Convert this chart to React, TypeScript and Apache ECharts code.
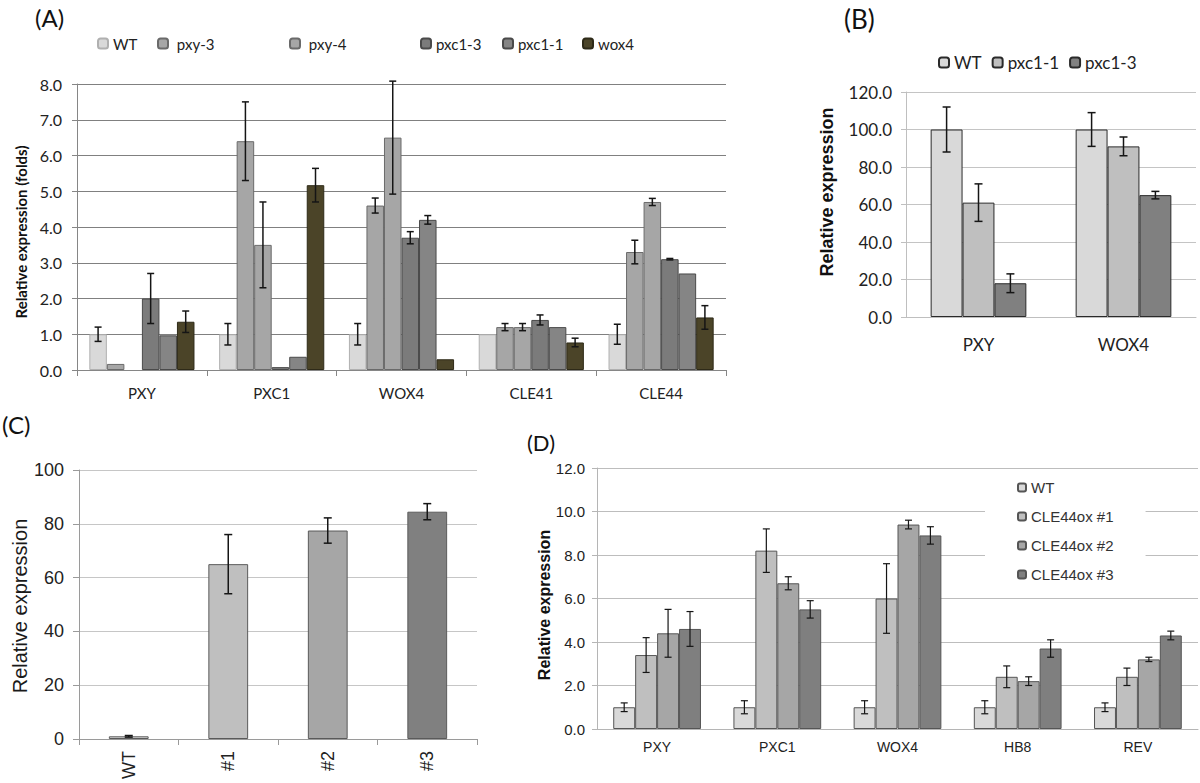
import React, { useEffect, useRef } from 'react';
import * as echarts from 'echarts';

// ---------- Panel A ----------
const aCategories = ['PXY', 'PXC1', 'WOX4', 'CLE41', 'CLE44'];
const aNames = ['WT', 'pxy-3', 'pxy-4', 'pxc1-3', 'pxc1-1', 'wox4'];
const aWT = [1.0, 1.0, 1.0, 1.0, 1.0];
const aWTErr = [0.2, 0.3, 0.3, 0, 0.28];
const aPxy3 = [0.17, 6.4, 4.6, 1.2, 3.3];
const aPxy3Err = [0, 1.1, 0.21, 0.1, 0.33];
const aPxy4 = [null, 3.5, 6.5, 1.2, 4.7];
const aPxy4Err = [0, 1.2, 1.58, 0.1, 0.1];
const aPxc13 = [2.0, 0.08, 3.7, 1.4, 3.1];
const aPxc13Err = [0.7, 0, 0.17, 0.14, 0.02];
const aPxc11 = [0.97, 0.37, 4.2, 1.2, 2.7];
const aPxc11Err = [0, 0, 0.12, 0, 0];
const aWox4 = [1.35, 5.17, 0.3, 0.77, 1.47];
const aWox4Err = [0.3, 0.47, 0, 0.12, 0.33];

// ---------- Panel B ----------
const bCategories = ['PXY', 'WOX4'];
const bNames = ['WT', 'pxc1-1', 'pxc1-3'];
const bWT = [100, 100];
const bWTErr = [12, 9];
const bPxc11 = [61, 91];
const bPxc11Err = [10, 5];
const bPxc13 = [18, 65];
const bPxc13Err = [5, 2];

// ---------- Panel C ----------
const cCategories = ['WT', '#1', '#2', '#3'];
const cValues = [1.0, 65, 77.5, 84.5];
const cErr = [0.3, 11, 4.7, 3];

// ---------- Panel D ----------
const dCategories = ['PXY', 'PXC1', 'WOX4', 'HB8', 'REV'];
const dNames = ['WT', 'CLE44ox #1', 'CLE44ox #2', 'CLE44ox #3'];
const dWT = [1, 1, 1, 1, 1];
const dWTErr = [0.2, 0.3, 0.3, 0.3, 0.2];
const d1 = [3.4, 8.2, 6.0, 2.4, 2.4];
const d1Err = [0.8, 1.0, 1.6, 0.5, 0.4];
const d2 = [4.4, 6.7, 9.4, 2.2, 3.2];
const d2Err = [1.1, 0.3, 0.2, 0.2, 0.1];
const d3 = [4.6, 5.5, 8.9, 3.7, 4.3];
const d3Err = [0.8, 0.4, 0.4, 0.4, 0.2];

const FA = 'Lato, "Open Sans", sans-serif';
const FD = '"Liberation Sans", Arial, sans-serif';

const A_GAP = 0.19;
const B_GAP = 0.34;
const C_GAP = 0.6;
const D_GAP = 0.27;

function bar(name: string, idx: number, data: (number | null)[], color: string, border: string, gap: number) {
  return {
    type: 'bar',
    name,
    xAxisIndex: idx,
    yAxisIndex: idx,
    data: data.map((v) => (v == null ? '-' : v)),
    barGap: '0%',
    barCategoryGap: gap * 100 + '%',
    itemStyle: { color, borderColor: border, borderWidth: 1 },
  };
}

function err(
  name: string,
  idx: number,
  vals: (number | null)[],
  errs: number[],
  pos: number,
  n: number,
  gap: number,
  cap: number,
  lw: number
) {
  return {
    type: 'custom',
    name: name + '-err',
    xAxisIndex: idx,
    yAxisIndex: idx,
    z: 10,
    silent: true,
    data: vals.map((v, i) => [i, v == null ? 0 : v, errs[i] || 0]),
    encode: { x: 0, y: 1 },
    renderItem: (params: any, api: any) => {
      const cat = api.value(0);
      const v = api.value(1);
      const e = api.value(2);
      if (!e) return null;
      const band = api.size([1, 0])[0];
      const groupW = band * (1 - gap);
      const barW = groupW / n;
      const cx = api.coord([cat, v])[0] - groupW / 2 + barW * (pos + 0.5);
      const yt = api.coord([cat, v + e])[1];
      const yb = api.coord([cat, v - e])[1];
      const st = { stroke: '#151515', lineWidth: lw };
      return {
        type: 'group',
        children: [
          { type: 'line', shape: { x1: cx, y1: yt, x2: cx, y2: yb }, style: st },
          { type: 'line', shape: { x1: cx - cap / 2, y1: yt, x2: cx + cap / 2, y2: yt }, style: st },
          { type: 'line', shape: { x1: cx - cap / 2, y1: yb, x2: cx + cap / 2, y2: yb }, style: st },
        ],
      };
    },
  };
}

const strip = (n: string) => n.split('|')[1];

function buildOption() {
  const aVals = [aWT, aPxy3, aPxy4, aPxc13, aPxc11, aWox4];
  const aErrs = [aWTErr, aPxy3Err, aPxy4Err, aPxc13Err, aPxc11Err, aWox4Err];
  const aColors = ['#d9d9d9', '#a6a6a6', '#a6a6a6', '#7b7b7b', '#858585', '#4b4428'];
  const aBorders = ['#b0b0b0', '#6a6a6a', '#6a6a6a', '#4a4a4a', '#4a4a4a', '#2e2a18'];

  const bVals = [bWT, bPxc11, bPxc13];
  const bErrs = [bWTErr, bPxc11Err, bPxc13Err];
  const bColors = ['#d9d9d9', '#bfbfbf', '#808080'];

  const dVals = [dWT, d1, d2, d3];
  const dErrs = [dWTErr, d1Err, d2Err, d3Err];
  const dColors = ['#d9d9d9', '#bfbfbf', '#a6a6a6', '#7f7f7f'];

  const cColors = ['#d9d9d9', '#bfbfbf', '#a6a6a6', '#808080'];

  const series: any[] = [];
  aNames.forEach((n, i) => {
    series.push(bar('A|' + n, 0, aVals[i], aColors[i], aBorders[i], A_GAP));
  });
  aNames.forEach((n, i) => {
    series.push(err('A|' + n, 0, aVals[i], aErrs[i], i, aNames.length, A_GAP, 7, 1.5));
  });
  bNames.forEach((n, i) => {
    series.push(bar('B|' + n, 1, bVals[i], bColors[i], '#2a2a2a', B_GAP));
  });
  bNames.forEach((n, i) => {
    series.push(err('B|' + n, 1, bVals[i], bErrs[i], i, bNames.length, B_GAP, 8, 1.5));
  });
  series.push({
    type: 'bar',
    name: 'C|values',
    xAxisIndex: 2,
    yAxisIndex: 2,
    barCategoryGap: C_GAP * 100 + '%',
    data: cValues.map((v, i) => ({ value: v, itemStyle: { color: cColors[i] } })),
    itemStyle: { borderColor: '#5a5a5a', borderWidth: 1 },
  });
  series.push(err('C|values', 2, cValues, cErr, 0, 1, C_GAP, 8, 1.5));
  dNames.forEach((n, i) => {
    series.push(bar('D|' + n, 3, dVals[i], dColors[i], '#555555', D_GAP));
  });
  dNames.forEach((n, i) => {
    series.push(err('D|' + n, 3, dVals[i], dErrs[i], i, dNames.length, D_GAP, 7, 1.2));
  });

  const aLegendPos = [97, 157, 289, 420, 502, 582];
  const aLegendFmt = ['WT', ' pxy-3', ' pxy-4', 'pxc1-3', 'pxc1-1', 'wox4'];
  const legends: any[] = aNames.map((n, i) => ({
    data: ['A|' + n],
    left: aLegendPos[i],
    top: 36,
    padding: 0,
    itemWidth: 10,
    itemHeight: 10,
    selectedMode: false,
    formatter: () => aLegendFmt[i],
    textStyle: { fontFamily: FA, fontSize: 15, color: '#222' },
  }));
  legends.push({
    data: bNames.map((n) => 'B|' + n),
    left: 938,
    top: 54,
    padding: 0,
    itemGap: 10,
    itemWidth: 10,
    itemHeight: 10,
    selectedMode: false,
    formatter: strip,
    textStyle: { fontFamily: FA, fontSize: 17, color: '#222' },
  });
  legends.push({
    data: dNames.map((n) => 'D|' + n),
    orient: 'vertical',
    left: 985,
    top: 473,
    padding: [7, 32, 7, 32],
    itemGap: 14,
    itemWidth: 8,
    itemHeight: 8,
    backgroundColor: '#ffffff',
    selectedMode: false,
    formatter: strip,
    textStyle: { fontFamily: FD, fontSize: 15, color: '#333' },
  });

  const grid = [
    { left: 77, top: 84, width: 649, height: 286 },
    { left: 906, top: 92, width: 290, height: 225 },
    { left: 79, top: 470, width: 398, height: 269 },
    { left: 597, top: 468, width: 601, height: 261 },
  ];

  const xAxis = [
    {
      type: 'category',
      gridIndex: 0,
      data: aCategories,
      axisLine: { lineStyle: { color: '#868686', width: 1 } },
      axisTick: { show: true, length: 6, lineStyle: { color: '#868686' } },
      axisLabel: { fontFamily: FA, fontSize: 15, color: '#222', margin: 15 },
    },
    {
      type: 'category',
      gridIndex: 1,
      data: bCategories,
      axisLine: { lineStyle: { color: '#bfbfbf', width: 1 } },
      axisTick: { show: false },
      axisLabel: { fontFamily: FA, fontSize: 17, color: '#222', margin: 19 },
    },
    {
      type: 'category',
      gridIndex: 2,
      data: cCategories,
      axisLine: { lineStyle: { color: '#9a9a9a', width: 1 } },
      axisTick: { show: true, length: 6, lineStyle: { color: '#9a9a9a' } },
      axisLabel: { fontFamily: FD, fontSize: 18, color: '#222', rotate: 90, margin: 12 },
    },
    {
      type: 'category',
      gridIndex: 3,
      data: dCategories,
      axisLine: { lineStyle: { color: '#b5b5b5', width: 1 } },
      axisTick: { show: false },
      axisLabel: { fontFamily: FD, fontSize: 14, color: '#222', margin: 11 },
    },
  ];

  const yAxis = [
    {
      type: 'value',
      gridIndex: 0,
      min: 0,
      max: 8,
      interval: 1,
      axisLine: { show: true, lineStyle: { color: '#868686' } },
      axisTick: { show: true, length: 5, lineStyle: { color: '#868686' } },
      splitLine: { lineStyle: { color: '#808080', width: 1 } },
      axisLabel: { fontFamily: FA, fontSize: 16, color: '#222', margin: 15, formatter: (v: number) => v.toFixed(1) },
    },
    {
      type: 'value',
      gridIndex: 1,
      min: 0,
      max: 120,
      interval: 20,
      axisLine: { show: true, lineStyle: { color: '#bfbfbf' } },
      axisTick: { show: true, length: 5, lineStyle: { color: '#bfbfbf' } },
      splitLine: { lineStyle: { color: '#c4c4c4', width: 1 } },
      axisLabel: { fontFamily: FA, fontSize: 17, color: '#222', margin: 14, formatter: (v: number) => v.toFixed(1) },
    },
    {
      type: 'value',
      gridIndex: 2,
      min: 0,
      max: 100,
      interval: 20,
      axisLine: { show: true, lineStyle: { color: '#9a9a9a' } },
      axisTick: { show: true, length: 6, lineStyle: { color: '#9a9a9a' } },
      splitLine: { lineStyle: { color: '#c6c6c6', width: 1 } },
      axisLabel: { fontFamily: FD, fontSize: 18, color: '#222', margin: 15 },
    },
    {
      type: 'value',
      gridIndex: 3,
      min: 0,
      max: 12,
      interval: 2,
      axisLine: { show: true, lineStyle: { color: '#b5b5b5' } },
      axisTick: { show: true, length: 5, lineStyle: { color: '#b5b5b5' } },
      splitLine: { lineStyle: { color: '#bdbdbd', width: 1 } },
      axisLabel: { fontFamily: FD, fontSize: 15, color: '#222', margin: 12, formatter: (v: number) => v.toFixed(1) },
    },
  ];

  const txt = (text: string, x: number, y: number, font: string, size: number, opts: any = {}) => ({
    type: 'text',
    x,
    y,
    rotation: opts.rotation || 0,
    style: {
      text,
      fontFamily: font,
      fontSize: size,
      fontWeight: opts.bold ? 'bold' : 'normal',
      fill: opts.color || '#111',
      textAlign: opts.align || 'left',
      textVerticalAlign: 'middle',
    },
  });

  const graphic = [
    txt('(A)', 35, 17, FA, 24),
    txt('(B)', 844, 19, FA, 26),
    txt('(C)', 2, 424, FA, 24),
    txt('(D)', 527, 442, FA, 22),
    txt('Relative expression (folds)', 21, 232, FA, 15, { rotation: Math.PI / 2, align: 'center', bold: true }),
    txt('Relative expression', 827, 192, FD, 18, { rotation: Math.PI / 2, align: 'center', bold: true }),
    txt('Relative expression', 20, 606, FD, 20, { rotation: Math.PI / 2, align: 'center', color: '#1a1a1a' }),
    txt('Relative expression', 544, 605, FD, 16, { rotation: Math.PI / 2, align: 'center', bold: true }),
  ];

  return {
    animation: false,
    backgroundColor: '#ffffff',
    grid,
    xAxis,
    yAxis,
    legend: legends,
    series,
    graphic,
  };
}

export default function App() {
  const ref = useRef<HTMLDivElement>(null);
  useEffect(() => {
    if (!ref.current) return;
    const chart = echarts.init(ref.current, undefined, { renderer: 'svg' });
    chart.setOption(buildOption() as any);
    return () => {
      chart.dispose();
    };
  }, []);
  return <div ref={ref} style={{ width: 1200, height: 783, position: 'absolute', left: 0, top: 0 }} />;
}
